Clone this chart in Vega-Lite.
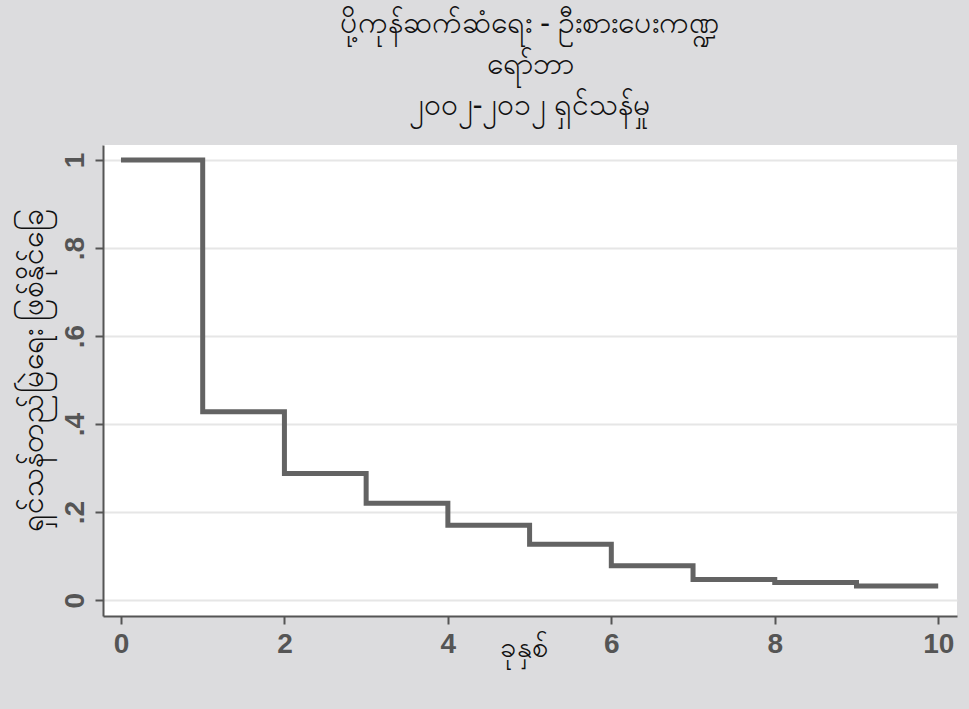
{
  "$schema": "https://vega.github.io/schema/vega-lite/v6.json",
  "width": 854,
  "height": 471,
  "autosize": {"type": "none"},
  "padding": {"left": 103, "top": 145, "right": 12, "bottom": 93},
  "background": "#dcdcde",
  "config": {
    "view": {"fill": "white", "stroke": null},
    "font": "Noto Sans"
  },
  "title": {
    "text": ["ပို့ကုန်ဆက်ဆံရေး - ဦးစားပေးကဏ္ဍ", "ရော်ဘာ", "၂၀၀၂-၂၀၁၂ ရှင်သန်မှု"],
    "anchor": "middle",
    "fontSize": 30,
    "fontWeight": "normal",
    "color": "#111111",
    "lineHeight": 41,
    "offset": 24,
    "dx": 0
  },
  "data": {
    "values": [
      {"year": 0, "surv": 1.0},
      {"year": 1, "surv": 0.428},
      {"year": 2, "surv": 0.288},
      {"year": 3, "surv": 0.22},
      {"year": 4, "surv": 0.17},
      {"year": 5, "surv": 0.127},
      {"year": 6, "surv": 0.078},
      {"year": 7, "surv": 0.047},
      {"year": 8, "surv": 0.04},
      {"year": 9, "surv": 0.032},
      {"year": 10, "surv": 0.032}
    ]
  },
  "mark": {"type": "line", "interpolate": "step-after", "color": "#636363", "strokeWidth": 5, "clip": true},
  "encoding": {
    "x": {
      "field": "year",
      "type": "quantitative",
      "scale": {"domain": [-0.22, 10.23], "nice": false, "zero": false},
      "axis": {
        "values": [0, 2, 4, 6, 8, 10],
        "title": "ခုနှစ်",
        "titleFontSize": 29,
        "titleFontWeight": "normal",
        "titleColor": "#111111",
        "titleX": 421,
        "titleY": 31,
        "titleBaseline": "middle",
        "titleAnchor": "start",
        "titleAlign": "center",
        "grid": false,
        "domainColor": "#555555",
        "domainWidth": 2,
        "tickColor": "#555555",
        "tickWidth": 2,
        "tickSize": 8,
        "labelFont": "Liberation Sans Narrow, Liberation Sans",
        "labelFontSize": 28,
        "labelFontWeight": "bold",
        "labelColor": "#555555",
        "labelPadding": 6,
        "labelFlush": false
      }
    },
    "y": {
      "field": "surv",
      "type": "quantitative",
      "scale": {"domain": [-0.036, 1.034], "nice": false, "zero": false},
      "axis": {
        "values": [0, 0.2, 0.4, 0.6, 0.8, 1],
        "labelExpr": "datum.value == 0 ? '0' : datum.value == 1 ? '1' : replace(format(datum.value, '.1f'), '0.', '.')",
        "title": "ရှင်သန်တည်မြဲရေး ဖြစ်နိုင်ခြေ",
        "titleFontSize": 30,
        "titleFontWeight": "normal",
        "titleColor": "#111111",
        "titleAngle": -90,
        "titleX": -70,
        "titleY": 225,
        "titleAlign": "center",
        "titleBaseline": "middle",
        "titleAnchor": "start",
        "grid": true,
        "gridColor": "#e6e6e6",
        "gridWidth": 2,
        "domainColor": "#555555",
        "domainWidth": 2,
        "tickColor": "#555555",
        "tickWidth": 2,
        "tickSize": 8,
        "labelAngle": -90,
        "labelAlign": "center",
        "labelBaseline": "bottom",
        "labelFont": "Liberation Sans Narrow, Liberation Sans",
        "labelFontSize": 28,
        "labelFontWeight": "bold",
        "labelColor": "#555555",
        "labelPadding": 6,
        "labelFlush": false
      }
    }
  }
}
